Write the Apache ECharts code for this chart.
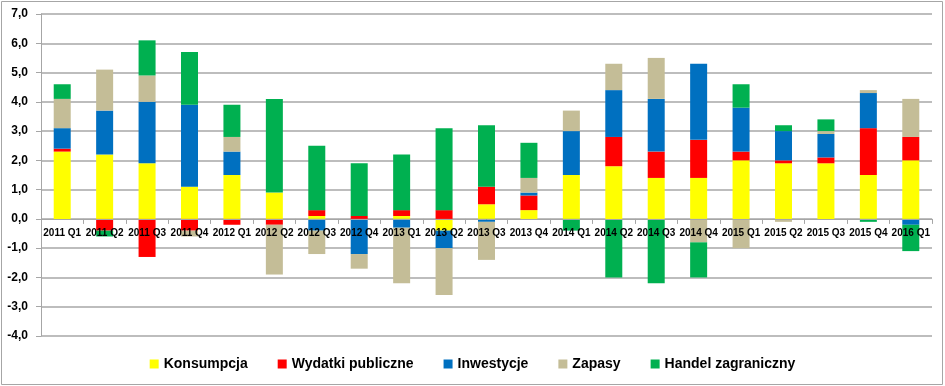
<!DOCTYPE html>
<html>
<head>
<meta charset="utf-8">
<script src="https://cdn.jsdelivr.net/npm/echarts@6/dist/echarts.min.js"></script>
<style>
html,body{margin:0;padding:0;background:#fff;}
#chart{width:945px;height:386px;}
</style>
</head>
<body>
<div id="chart"></div>
<script>
const categories = ['2011 Q1','2011 Q2','2011 Q3','2011 Q4','2012 Q1','2012 Q2','2012 Q3','2012 Q4','2013 Q1','2013 Q2','2013 Q3','2013 Q4','2014 Q1','2014 Q2','2014 Q3','2014 Q4','2015 Q1','2015 Q2','2015 Q3','2015 Q4','2016 Q1'];
const konsumpcja = [2.3,2.2,1.9,1.1,1.5,0.9,0.1,0.0,0.1,-0.4,0.5,0.3,1.5,1.8,1.4,1.4,2.0,1.9,1.9,1.5,2.0];
const wydatki    = [0.1,-0.4,-1.3,-0.4,-0.2,-0.2,0.2,0.1,0.2,0.3,0.6,0.5,0.0,1.0,0.9,1.3,0.3,0.1,0.2,1.6,0.8];
const inwestycje = [0.7,1.5,2.1,2.8,0.8,0.0,-0.4,-1.2,-0.3,-0.6,-0.1,0.1,1.5,1.6,1.8,2.6,1.5,1.0,0.8,1.2,-0.2];
const zapasy     = [1.0,1.4,0.9,-0.2,0.5,-1.7,-0.8,-0.5,-1.9,-1.6,-1.3,0.5,0.7,0.9,1.4,-0.8,-1.0,-0.1,0.1,0.1,1.3];
const handel     = [0.5,-0.2,1.2,1.8,1.1,3.2,2.2,1.8,1.9,2.8,2.1,1.2,-0.4,-2.0,-2.2,-1.2,0.8,0.2,0.4,-0.1,-0.9];
const seriesNames = ['Konsumpcja','Wydatki publiczne','Inwestycje','Zapasy','Handel zagraniczny'];
const seriesColors = ['#FFFF00','#FF0000','#0070C0','#C4BD97','#00B050'];
const seriesData = [konsumpcja, wydatki, inwestycje, zapasy, handel];
const yMin = -4, yMax = 7;

const chart = echarts.init(document.getElementById('chart'), null, {renderer:'canvas'});
const font = '"Liberation Sans", Arial, sans-serif';
const gridTop = 14, gridBottom = 50, H = 386;
const plotH = H - gridTop - gridBottom;
const zeroOffset = -plotH * (0 - yMin) / (yMax - yMin);
chart.setOption({
  animation: false,
  backgroundColor: '#fff',
  graphic: [{
    type: 'rect', silent: true, z: -1,
    shape: {x: 1.5, y: 1.5, width: 941, height: 383},
    style: {fill: 'none', stroke: '#a6a6a6', lineWidth: 1}
  }],
  grid: {left: 41, right: 13, top: gridTop, bottom: gridBottom, containLabel: false},
  legend: {
    bottom: 10, left: 'center',
    itemWidth: 9, itemHeight: 9, itemGap: 30,
    icon: 'rect',
    textStyle: {fontFamily: font, fontWeight: 'bold', fontSize: 14, color: '#000'},
    data: seriesNames
  },
  xAxis: {
    type: 'category',
    data: categories,
    position: 'bottom',
    offset: zeroOffset,
    z: 10,
    axisLine: {onZero: false, lineStyle: {color: '#a6a6a6', width: 1}},
    axisTick: {show: true, length: 5, lineStyle: {color: '#a6a6a6'}},
    axisLabel: {interval: 0, margin: 9, fontFamily: font, fontWeight: 'bold', fontSize: 10, color: '#000'}
  },
  yAxis: {
    type: 'value',
    min: yMin, max: yMax, interval: 1,
    axisLine: {show: true, lineStyle: {color: '#a6a6a6', width: 1}},
    axisTick: {show: true, length: 5, lineStyle: {color: '#a6a6a6'}},
    splitLine: {show: true, lineStyle: {color: '#bdbdbd', width: 2}},
    axisLabel: {
      margin: 13, fontFamily: font, fontWeight: 'bold', fontSize: 12, color: '#000',
      formatter: v => v.toFixed(1).replace('.', ',')
    }
  },
  series: seriesNames.map((n, i) => ({
    name: n,
    type: 'bar',
    stack: 'total',
    barWidth: 17,
    itemStyle: {color: seriesColors[i]},
    data: seriesData[i]
  }))
});
</script>
</body>
</html>
